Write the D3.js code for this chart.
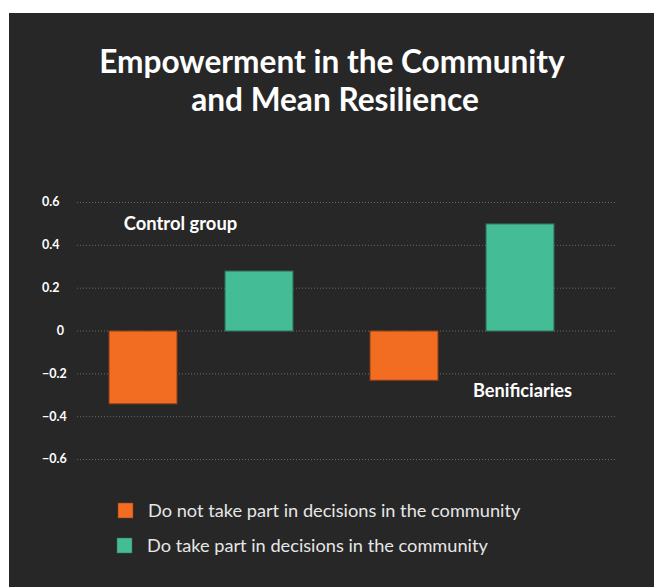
<!DOCTYPE html>
<html>
<head>
<meta charset="utf-8">
<script src="https://cdn.jsdelivr.net/npm/d3@7"></script>
<style>
  html, body { margin: 0; padding: 0; background: #ffffff; }
  svg { display: block; }
</style>
</head>
<body>
<svg id="chart" width="654" height="587"></svg>
<script>
// Mean resilience by participation in community decisions
const groups = ["Control group", "Benificiaries"];
const seriesNames = [
  "Do not take part in decisions in the community",
  "Do take part in decisions in the community"
];
const notTakePart = [-0.34, -0.23];
const doTakePart = [0.28, 0.50];
const tickValues = [0.6, 0.4, 0.2, 0, -0.2, -0.4, -0.6];
const seriesColors = ["#f26c21", "#44bd96"];
const seriesStrokes = ["#8a3f18", "#2f6e5a"];

const svg = d3.select("#chart");
const font = "Lato, 'Open Sans', sans-serif";

// dark panel
svg.append("rect")
  .attr("x", 9).attr("y", 13)
  .attr("width", 654 - 9).attr("height", 587 - 13)
  .attr("fill", "#272727");

// title
const title = svg.append("text")
  .attr("text-anchor", "middle")
  .attr("fill", "#ffffff")
  .attr("font-family", font)
  .attr("font-weight", 700)
  .attr("font-size", 31.6);
title.append("tspan").attr("x", 332).attr("y", 73).text("Empowerment in the Community");
title.append("tspan").attr("x", 335).attr("y", 111).text("and Mean Resilience");

// scales
const y = d3.scaleLinear().domain([-0.6, 0.6]).range([459, 202]);
const x0 = d3.scaleBand().domain(groups).range([70, 592]).padding(0);
const x1 = d3.scaleBand().domain([0, 1]).range([0, x0.bandwidth()])
  .paddingInner(0.414).paddingOuter(0.332);

// gridlines
svg.append("g")
  .selectAll("line")
  .data(tickValues)
  .join("line")
  .attr("x1", 77).attr("x2", 615)
  .attr("y1", d => y(d) + 0.5).attr("y2", d => y(d) + 0.5)
  .attr("stroke", "#6a6a6a")
  .attr("stroke-width", 1)
  .attr("stroke-dasharray", "1,2");

// tick labels
svg.append("g")
  .selectAll("text")
  .data(tickValues)
  .join("text")
  .attr("x", d => d === 0 ? 64 : 42)
  .attr("y", d => y(d))
  .attr("dy", "0.35em")
  .attr("text-anchor", d => d === 0 ? "end" : "start")
  .attr("fill", "#ffffff")
  .attr("font-family", font)
  .attr("font-weight", 700)
  .attr("font-size", 12.5)
  .text(d => d === 0 ? "0" : d3.format(".1f")(d));

// bars
const barData = [];
groups.forEach((g, i) => {
  barData.push({ group: g, s: 0, v: notTakePart[i] });
  barData.push({ group: g, s: 1, v: doTakePart[i] });
});

svg.append("g")
  .selectAll("rect")
  .data(barData)
  .join("rect")
  .attr("x", d => x0(d.group) + x1(d.s) + 0.5)
  .attr("width", x1.bandwidth())
  .attr("y", d => y(Math.max(0, d.v)) + 0.5)
  .attr("height", d => Math.abs(y(d.v) - y(0)))
  .attr("fill", d => seriesColors[d.s])
  .attr("stroke", d => seriesStrokes[d.s])
  .attr("stroke-width", 1);

// group labels
svg.append("text")
  .attr("x", x0("Control group") + x0.bandwidth() / 2 - 20)
  .attr("y", y(0.5))
  .attr("dy", "0.35em")
  .attr("text-anchor", "middle")
  .attr("fill", "#ffffff")
  .attr("font-family", font)
  .attr("font-weight", 700)
  .attr("font-size", 18.4)
  .text(groups[0]);

svg.append("text")
  .attr("x", x0("Benificiaries") + x1(1) + x1.bandwidth() / 2 + 3)
  .attr("y", y(-0.28))
  .attr("dy", "0.35em")
  .attr("text-anchor", "middle")
  .attr("fill", "#ffffff")
  .attr("font-family", font)
  .attr("font-weight", 700)
  .attr("font-size", 18.2)
  .text(groups[1]);

// legend
const legend = svg.append("g").attr("transform", "translate(118,503)");
const items = legend.selectAll("g")
  .data(seriesNames)
  .join("g")
  .attr("transform", (d, i) => `translate(${-i}, ${i * 35})`);
items.append("rect")
  .attr("width", 15).attr("height", 15)
  .attr("fill", (d, i) => seriesColors[i])
  .attr("stroke", (d, i) => seriesStrokes[i])
  .attr("stroke-width", 0.5);
items.append("text")
  .attr("x", 30)
  .attr("y", 7.5)
  .attr("dy", "0.35em")
  .attr("fill", "#e6e6e6")
  .attr("font-family", font)
  .attr("font-size", 18.2)
  .text(d => d);
</script>
</body>
</html>
